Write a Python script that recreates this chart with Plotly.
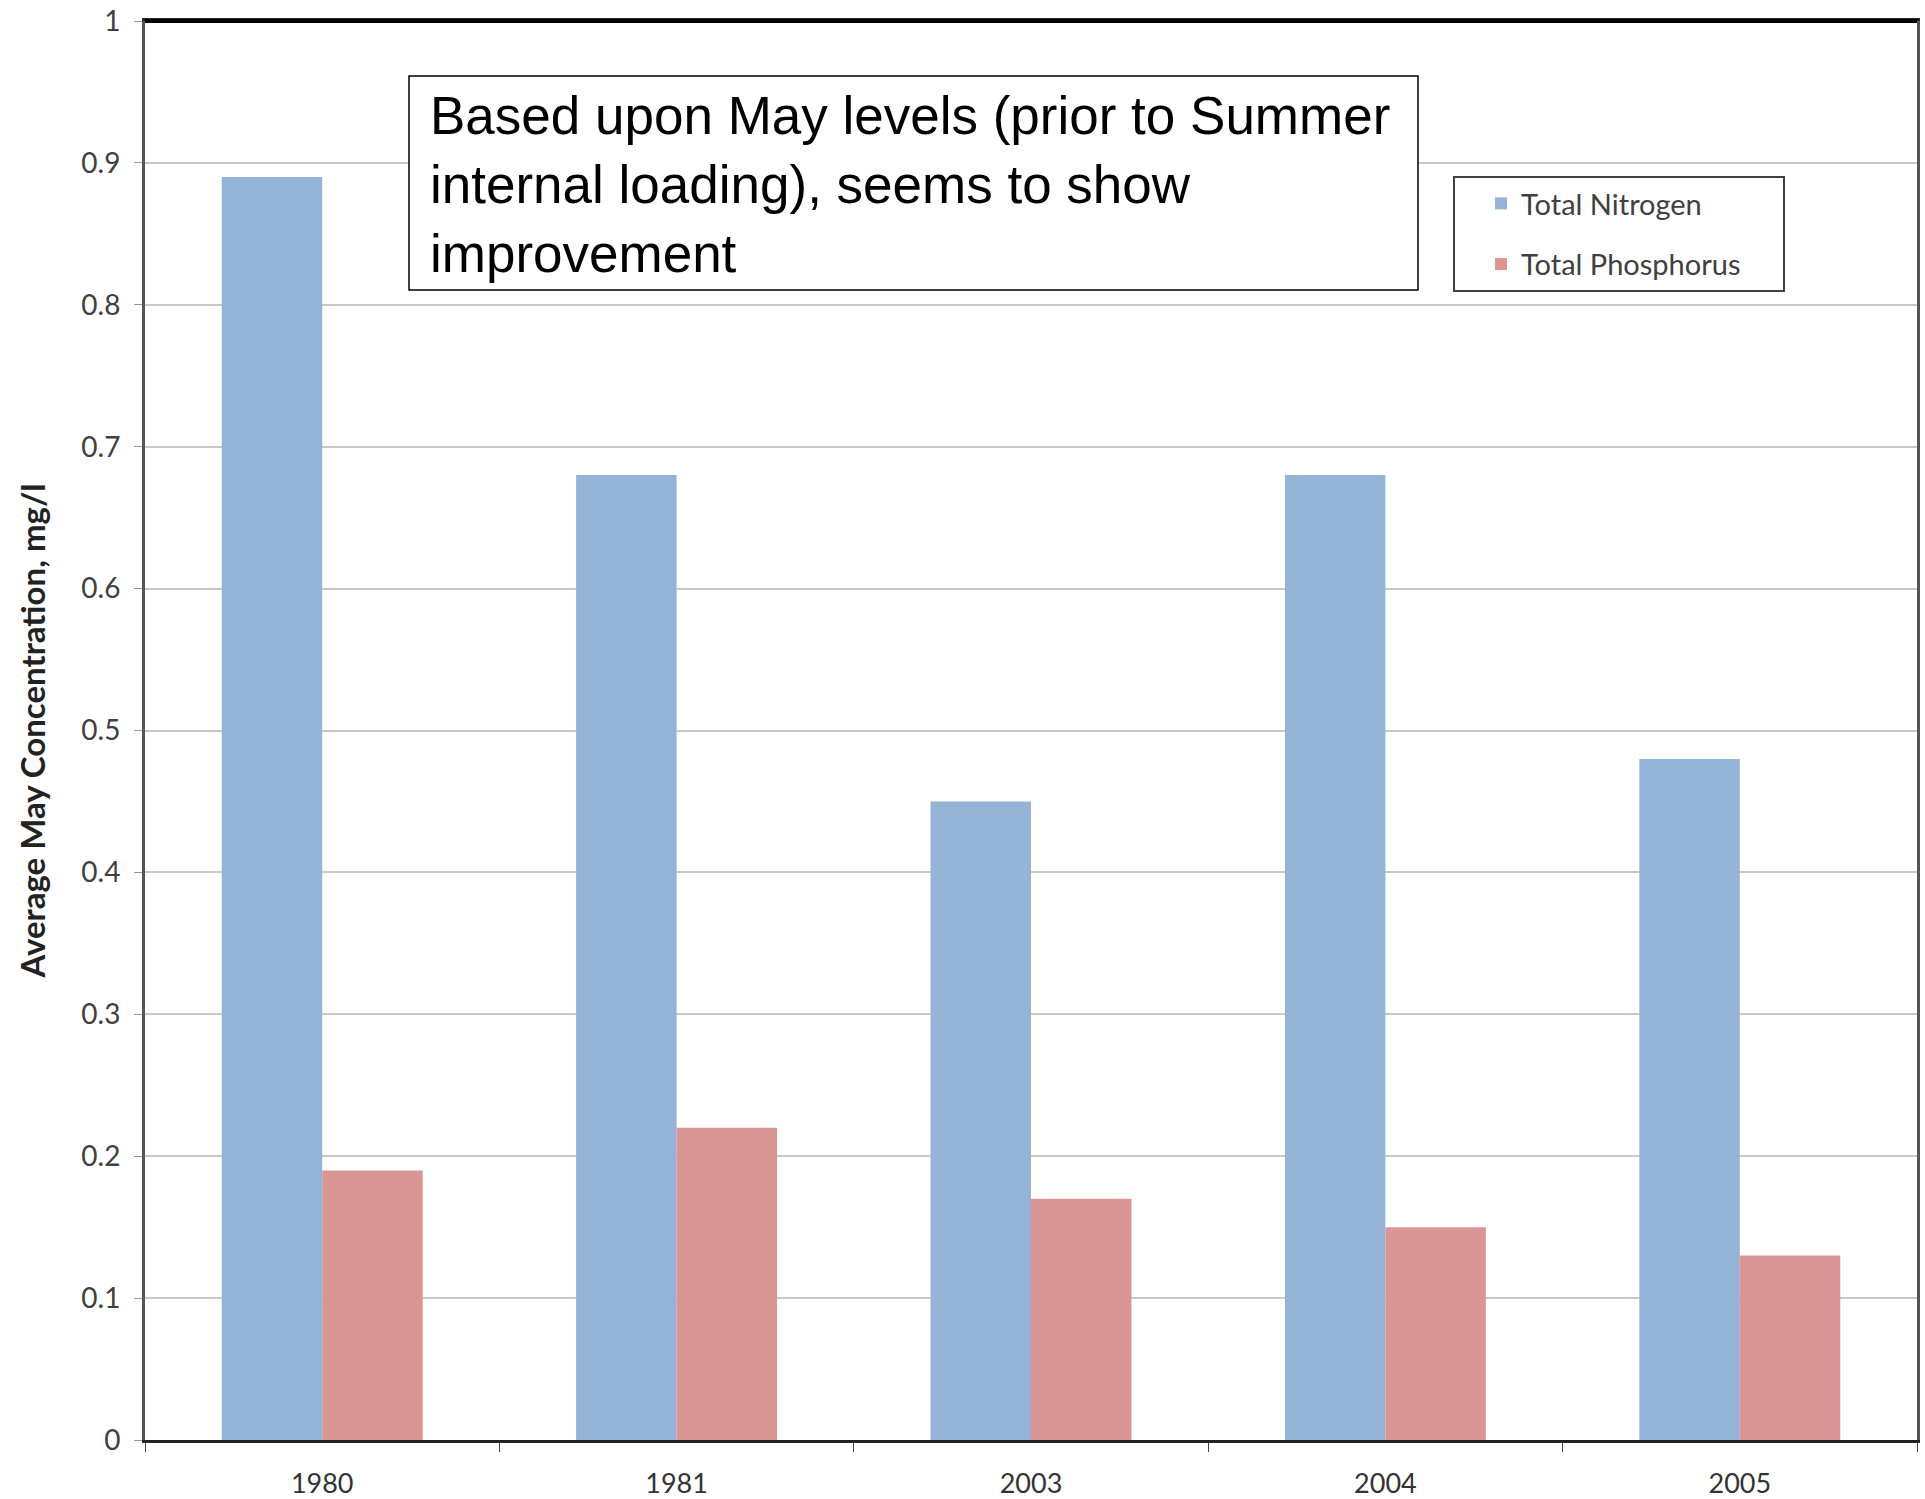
import plotly.graph_objects as go

years = ["1980", "1981", "2003", "2004", "2005"]
nitrogen = [0.89, 0.68, 0.45, 0.68, 0.48]
phosphorus = [0.19, 0.22, 0.17, 0.15, 0.13]
y_ticks = [0, 0.1, 0.2, 0.3, 0.4, 0.5, 0.6, 0.7, 0.8, 0.9, 1]
y_tick_text = ["0", "0.1", "0.2", "0.3", "0.4", "0.5", "0.6", "0.7", "0.8", "0.9", "1"]
note_text = "Based upon May levels (prior to Summer<br>internal loading), seems to show<br>improvement"

W, H = 1925, 1499
L, R, T, B = 145, 8, 21, 59
pw, ph = W - L - R, H - T - B

def px_x(x):
    return (x - L) / pw

def px_y(y):
    return (H - B - y) / ph

FONT = "Lato, Open Sans, sans-serif"
PAD = "\u00a0" * 5  # right-hand breathing room inside the legend frame

fig = go.Figure()
fig.add_trace(go.Bar(x=years, y=nitrogen, name="Total Nitrogen" + PAD,
                     marker=dict(color="#95B3D7", line=dict(width=0)),
                     legendgroup="n"))
fig.add_trace(go.Bar(x=years, y=phosphorus, name="Total Phosphorus" + PAD,
                     marker=dict(color="#D99694", line=dict(width=0)),
                     legendgroup="p"))

fig.update_layout(
    width=W, height=H,
    margin=dict(l=L, r=R, t=T, b=B, autoexpand=False),
    paper_bgcolor="white", plot_bgcolor="white",
    barmode="group", bargap=0.433, bargroupgap=0,
    showlegend=True,
    legend=dict(
        x=px_x(1453), y=px_y(176), xanchor="left", yanchor="top",
        bgcolor="white", bordercolor="#404040", borderwidth=2,
        font=dict(family=FONT, size=29, color="#404040"),
        traceorder="grouped", tracegroupgap=20,
        itemwidth=30, indentation=26,
    ),
    xaxis=dict(
        type="category", tickson="boundaries", ticks="outside", ticklen=9,
        tickcolor="#404040", tickwidth=1, ticklabelstandoff=18,
        showline=True, linecolor="#222222", linewidth=3, mirror=True,
        showgrid=False, automargin=False,
        tickfont=dict(family=FONT, size=27, color="#333333"),
    ),
    yaxis=dict(
        range=[0, 1], tickvals=y_ticks, ticktext=y_tick_text,
        ticks="outside", ticklen=8, tickcolor="#999999", ticklabelstandoff=8,
        showline=True, linecolor="#555555", linewidth=3, mirror=True,
        showgrid=True, gridcolor="#C8C8C8", gridwidth=2,
        zeroline=False, automargin=False,
        tickfont=dict(family=FONT, size=28, color="#404040"),
        title=dict(text="<b>Average May Concentration, mg/l</b>",
                   font=dict(family=FONT, size=33, color="#222222"),
                   standoff=26),
    ),
    annotations=[dict(
        xref="paper", yref="paper", x=px_x(428), y=px_y(184),
        xanchor="left", yanchor="middle", align="left",
        text=note_text, showarrow=False,
        font=dict(family="Liberation Sans, Arial, sans-serif", size=53, color="black"),
    )],
)

# Note box behind the annotation text
fig.add_shape(type="rect", xref="paper", yref="paper",
              x0=px_x(409), x1=px_x(1418), y0=px_y(290), y1=px_y(76),
              line=dict(color="black", width=1.5), fillcolor="white", layer="above")
# Heavy top frame edge
fig.add_shape(type="line", xref="paper", yref="paper", x0=0, x1=1, y0=1, y1=1,
              line=dict(color="black", width=4))

fig.write_html("out.html")
